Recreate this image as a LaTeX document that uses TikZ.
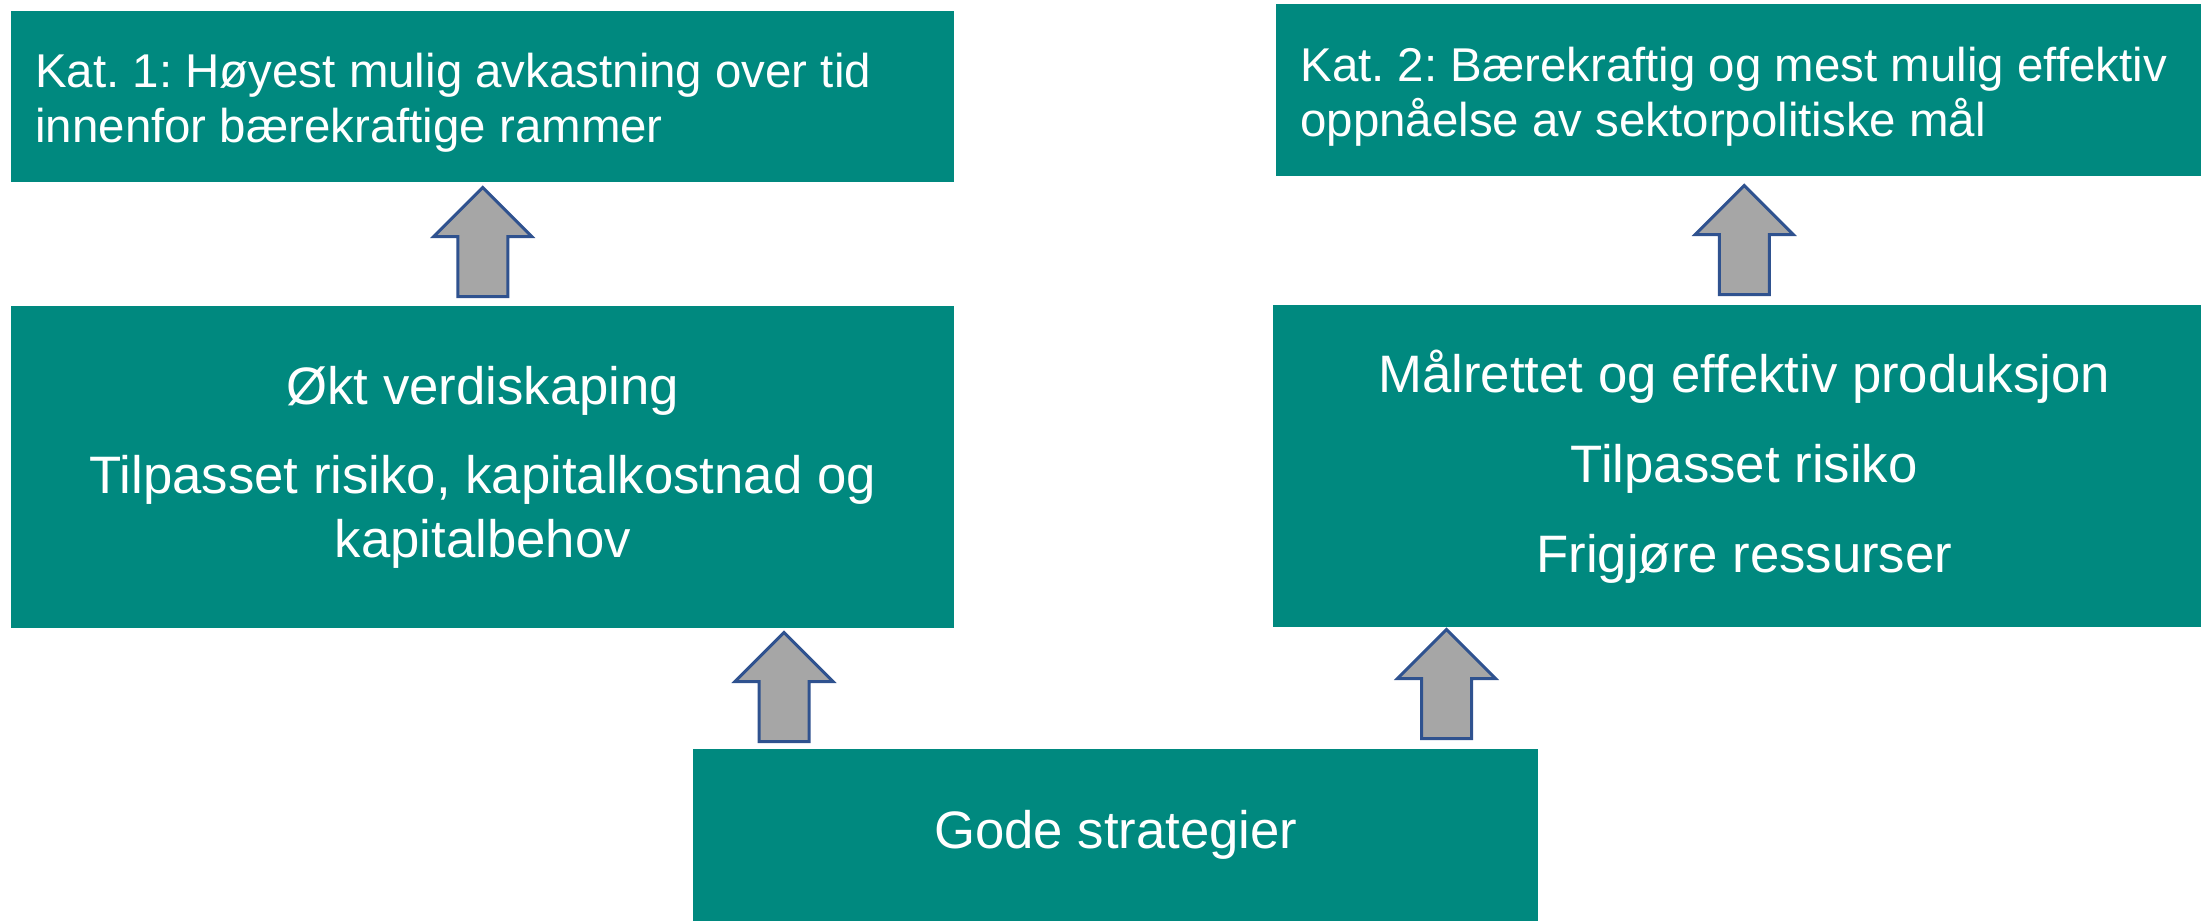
\documentclass[tikz,border=0pt]{standalone}
\usepackage{fontspec}
\setmainfont{Liberation Sans}
\usetikzlibrary{shapes.arrows,calc}

\definecolor{tealbox}{RGB}{0,137,127}
\definecolor{arrowgray}{RGB}{166,166,166}
\definecolor{arrowblue}{RGB}{47,82,143}

\tikzset{
  katbox/.style={fill=tealbox, text=white, anchor=north west, inner xsep=0.48cm,
    align=flush left, font=\fontsize{27}{31.3}\selectfont},
  midbox/.style={fill=tealbox, text=white, anchor=north west, align=center,
    font=\fontsize{30}{36.4}\selectfont},
  uparrow/.style={single arrow, rotate=90, anchor=tail, fill=arrowgray, draw=arrowblue,
    line width=0.06cm, inner xsep=0pt, inner ysep=0.47cm, minimum height=2.18cm,
    single arrow head extend=0.48cm, single arrow tip angle=90}
}

\begin{document}
\frenchspacing
\begin{tikzpicture}[x=0.02cm, y=-0.02cm]
      \clip (0,0) rectangle (2201,920);

      \node[katbox, minimum width=18.86cm, minimum height=3.42cm, text width=17.9cm] (kat1) at (11,11)
        {\rule{0pt}{26.5pt}Kat. 1: Høyest mulig avkastning over tid\\innenfor bærekraftige rammer};
      \node[katbox, minimum width=18.78cm, minimum height=3.44cm, text width=17.9cm] (kat2) at (1276,4)
        {\rule{0pt}{26.5pt}Kat. 2: Bærekraftig og mest mulig effektiv\\oppnåelse av sektorpolitiske mål};

      \node[midbox, minimum width=18.86cm, minimum height=6.44cm] (okt) at (11,306)
        {Økt verdiskaping\\[14.8pt]Tilpasset risiko, kapitalkostnad og\\kapitalbehov};
      \node[midbox, minimum width=18.84cm, minimum height=6.44cm] (malrettet) at (1273,305)
        {Målrettet og effektiv produksjon\\[14.8pt]Tilpasset risiko\\[14.8pt]Frigjøre ressurser};

      \node[midbox, minimum width=16.9cm, minimum height=3.44cm] (gode) at (693,749)
        {Gode strategier};

      % block arrows between the boxes
      \node[uparrow] (up1) at ($(okt.north)+(0,-8)$) {};
      \node[uparrow] (up2) at ($(malrettet.north)+(0,-9)$) {};
      \node[uparrow] (up3) at ($(gode.north west)+(91,-6)$) {};
      \node[uparrow] (up4) at ($(gode.north east)+(-92,-9)$) {};

    \end{tikzpicture}
\end{document}
